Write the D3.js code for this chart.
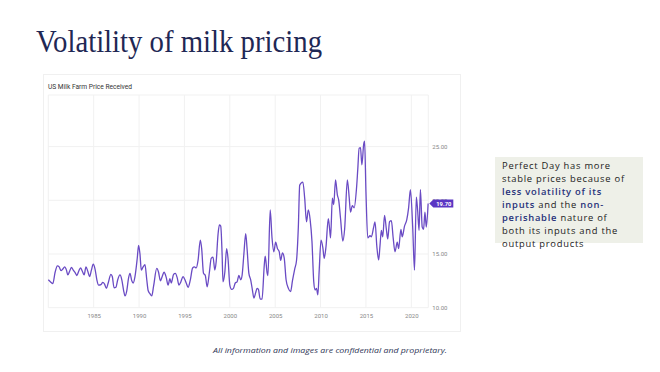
<!DOCTYPE html>
<html>
<head>
<meta charset="utf-8">
<script src="https://cdn.jsdelivr.net/npm/d3@7"></script>
<style>
  body { margin: 0; background: #fff; }
  svg { display: block; }
</style>
</head>
<body>
<div id="chart"></div>
<script>
// decimal years and prices ($/cwt)
const years = [
  1980.0, 1980.25, 1980.5, 1980.75, 1981.0, 1981.2, 1981.4, 1981.6, 1981.8, 1982.0,
  1982.15, 1982.35, 1982.55, 1982.75, 1983.0, 1983.15, 1983.35, 1983.55, 1983.75, 1983.95,
  1984.15, 1984.35, 1984.55, 1984.75, 1984.95, 1985.15, 1985.35, 1985.55, 1985.8, 1986.0,
  1986.2, 1986.4, 1986.6, 1986.9, 1987.05, 1987.25, 1987.45, 1987.65, 1987.9, 1988.1,
  1988.3, 1988.45, 1988.65, 1988.85, 1989.0, 1989.2, 1989.35, 1989.55, 1989.8, 1989.95,
  1990.1, 1990.25, 1990.45, 1990.65, 1990.85, 1991.0, 1991.2, 1991.4, 1991.6, 1991.95,
  1992.15, 1992.35, 1992.55, 1992.75, 1993.0, 1993.2, 1993.4, 1993.55, 1993.8, 1994.0,
  1994.2, 1994.4, 1994.6, 1994.85, 1995.0, 1995.2, 1995.4, 1995.65, 1995.9, 1996.1,
  1996.3, 1996.5, 1996.75, 1996.9, 1997.1, 1997.3, 1997.5, 1997.75, 1997.95, 1998.15,
  1998.35, 1998.5, 1998.7, 1998.85, 1999.0, 1999.15, 1999.25, 1999.45, 1999.65, 1999.8,
  2000.0, 2000.2, 2000.4, 2000.6, 2000.8, 2001.0, 2001.2, 2001.35, 2001.55, 2001.75,
  2001.9, 2002.1, 2002.3, 2002.5, 2002.65, 2002.85, 2003.0, 2003.15, 2003.35, 2003.55,
  2003.8, 2003.9, 2004.1, 2004.2, 2004.45, 2004.65, 2004.85, 2005.05, 2005.25, 2005.45,
  2005.6, 2005.8, 2006.0, 2006.2, 2006.45, 2006.7, 2006.9, 2007.15, 2007.35, 2007.55,
  2007.7, 2007.85, 2008.05, 2008.25, 2008.45, 2008.65, 2008.85, 2009.05, 2009.25, 2009.4,
  2009.55, 2009.7, 2009.85, 2010.05, 2010.25, 2010.4, 2010.6, 2010.85, 2011.0, 2011.1,
  2011.3, 2011.45, 2011.65, 2011.85, 2012.0, 2012.2, 2012.45, 2012.65, 2012.95, 2013.15,
  2013.3, 2013.5, 2013.7, 2013.95, 2014.1, 2014.25, 2014.4, 2014.55, 2014.75, 2014.85,
  2015.0, 2015.2, 2015.45, 2015.6, 2015.85, 2016.0, 2016.2, 2016.4, 2016.55, 2016.7,
  2016.85, 2017.05, 2017.25, 2017.4, 2017.6, 2017.8, 2018.0, 2018.2, 2018.45, 2018.6,
  2018.85, 2019.0, 2019.25, 2019.5, 2019.7, 2019.9, 2020.15, 2020.35, 2020.55, 2020.7,
  2020.85, 2021.0, 2021.2, 2021.35, 2021.5, 2021.65, 2021.85
];
const prices = [
  12.6, 12.4, 12.25, 13.3, 13.9, 13.8, 13.45, 13.6, 13.8, 13.5,
  13.05, 13.4, 13.75, 13.5, 13.2, 13.0, 13.4, 13.7, 13.4, 13.05,
  13.8, 13.4, 12.9, 13.5, 14.05, 13.6, 12.6, 12.1, 12.15, 12.35,
  12.2, 11.8, 12.3, 13.1, 12.9, 11.85, 11.9, 12.6, 13.05, 12.6,
  11.6, 11.1, 11.6, 12.8, 13.2, 12.5, 12.3, 12.9, 14.6, 15.8,
  15.0, 13.5, 13.8, 14.0, 12.6, 11.6, 11.3, 11.1, 12.0, 13.66,
  13.3, 12.5, 12.9, 13.3, 12.8, 12.1, 12.7, 12.3, 13.1, 13.2,
  12.8, 12.1, 12.4, 12.9, 12.7, 12.3, 11.9, 12.6, 13.7, 13.8,
  13.7, 14.4, 16.3, 15.5, 13.2, 13.0, 11.95, 13.3, 14.6, 14.7,
  13.5, 14.3, 16.8, 17.7, 17.6, 15.0, 12.4, 13.3, 15.5, 14.6,
  12.1, 11.7, 11.8, 12.3, 12.4, 13.0, 12.6, 13.0, 15.0, 16.9,
  15.5, 13.2, 12.6, 11.6, 10.9, 11.4, 11.8, 11.7, 10.8, 10.8,
  14.0, 14.8, 13.3, 13.0, 19.1, 16.5, 15.2, 16.1, 15.5, 15.2,
  14.4, 15.1, 14.6, 12.6, 11.8, 11.5, 12.5, 13.6, 14.4, 17.5,
  21.4, 21.6, 21.7, 20.2, 18.0, 19.1, 18.2, 16.2, 12.4, 11.65,
  11.8, 11.2, 13.5, 16.3, 15.6, 14.6, 15.7, 18.3, 17.3, 16.5,
  20.2, 19.6, 21.9, 20.5, 20.0, 18.3, 16.2, 17.3, 21.9, 20.3,
  18.9, 19.5, 19.3, 21.0, 22.9, 24.85, 24.9, 23.3, 25.2, 25.5,
  20.8, 16.5, 16.7, 16.6, 17.5, 18.0, 15.7, 14.45, 15.8, 17.2,
  16.6, 18.6, 17.3, 16.4, 18.0, 18.1, 16.5, 15.2, 16.1, 15.5,
  17.3, 16.6, 17.6, 18.2, 19.3, 21.0, 17.5, 13.5, 20.3, 19.0,
  17.2, 21.0, 17.5, 17.3, 18.9, 17.5, 19.7
];
const yearTicks = [1985, 1990, 1995, 2000, 2005, 2010, 2015, 2020];
const priceTicks = [10, 15, 20, 25];
const lastValue = 19.70;

const width = 660;
const height = 372;
const plot = { left: 48.3, right: 428.3, top: 95, bottom: 307.7 };

const svg = d3.select('#chart')
  .append('svg')
  .attr('width', width)
  .attr('height', height);

// slide title
svg.append('text')
  .attr('x', 36)
  .attr('y', 52)
  .attr('font-family', '"Liberation Serif", "DejaVu Serif", serif')
  .attr('font-size', 32)
  .attr('fill', '#1f2855')
  .attr('textLength', 286)
  .attr('lengthAdjust', 'spacingAndGlyphs')
  .text('Volatility of milk pricing');

// chart panel
svg.append('rect')
  .attr('x', 43.5)
  .attr('y', 74.5)
  .attr('width', 417)
  .attr('height', 257)
  .attr('fill', '#fff')
  .attr('stroke', '#f0f0f0');

svg.append('text')
  .attr('x', 48)
  .attr('y', 88.5)
  .attr('font-family', 'Roboto, sans-serif')
  .attr('font-size', 7.2)
  .attr('fill', '#333')
  .attr('textLength', 84)
  .attr('lengthAdjust', 'spacingAndGlyphs')
  .text('US Milk Farm Price Received');

const x = d3.scaleLinear()
  .domain([1980, 2021.87])
  .range([plot.left, plot.right]);

const y = d3.scaleLinear()
  .domain([10, 10 + (plot.bottom - plot.top) / 10.74])
  .range([plot.bottom, plot.top]);

// grid
const grid = svg.append('g').attr('stroke', '#f1f1f1').attr('stroke-width', 1);
grid.selectAll('line.v')
  .data(yearTicks)
  .join('line')
  .attr('class', 'v')
  .attr('x1', d => x(d)).attr('x2', d => x(d))
  .attr('y1', plot.top).attr('y2', plot.bottom);
grid.selectAll('line.h')
  .data(priceTicks.concat([y.domain()[1]]))
  .join('line')
  .attr('class', 'h')
  .attr('x1', plot.left).attr('x2', plot.right)
  .attr('y1', d => y(d)).attr('y2', d => y(d));
grid.append('line')
  .attr('x1', plot.left).attr('x2', plot.left)
  .attr('y1', plot.top).attr('y2', plot.bottom);
grid.append('line')
  .attr('x1', plot.right).attr('x2', plot.right)
  .attr('y1', plot.top).attr('y2', plot.bottom);

// axes
const xAxis = svg.append('g')
  .attr('transform', `translate(0,${plot.bottom})`)
  .call(d3.axisBottom(x).tickValues(yearTicks).tickFormat(d3.format('d')).tickSize(0).tickPadding(6));
xAxis.select('.domain').remove();
xAxis.selectAll('text')
  .attr('font-family', 'Roboto, sans-serif')
  .attr('font-size', 6)
  .attr('fill', '#888');

// 20.00 is partly covered by the last-value flag, as in the source
const yAxis = svg.append('g')
  .attr('transform', `translate(${plot.right},0)`)
  .call(d3.axisRight(y).tickValues(priceTicks).tickFormat(d3.format('.2f')).tickSize(0).tickPadding(4));
yAxis.select('.domain').remove();
yAxis.selectAll('text')
  .attr('font-family', 'Roboto, sans-serif')
  .attr('font-size', 6)
  .attr('fill', '#888');

// price line
const series = years.map((d, i) => ({ year: d, price: prices[i] }));
const line = d3.line()
  .x(d => x(d.year))
  .y(d => y(d.price))
  .curve(d3.curveMonotoneX);

svg.append('path')
  .datum(series)
  .attr('fill', 'none')
  .attr('stroke', '#6a4bc4')
  .attr('stroke-width', 1.3)
  .attr('stroke-linejoin', 'round')
  .attr('d', line);

// last value flag
const ly = y(lastValue);
const lx = plot.right + 1;
svg.append('path')
  .attr('fill', '#5b36c4')
  .attr('d', `M${lx},${ly} L${lx + 4},${ly - 4} L${lx + 24},${ly - 4} L${lx + 24},${ly + 4} L${lx + 4},${ly + 4} Z`);
svg.append('text')
  .attr('x', lx + 14.5)
  .attr('y', ly + 2.1)
  .attr('text-anchor', 'middle')
  .attr('font-family', 'Roboto, sans-serif')
  .attr('font-weight', 'bold')
  .attr('font-size', 5.8)
  .attr('fill', '#fff')
  .text(d3.format('.2f')(lastValue));

// side note
svg.append('rect')
  .attr('x', 495)
  .attr('y', 157)
  .attr('width', 148)
  .attr('height', 86)
  .attr('fill', '#eef0e8');

const noteLines = [
  [['Perfect Day has more', false]],
  [['stable prices because of', false]],
  [['less volatility of its', true]],
  [['inputs', true], [' and the ', false], ['non-', true]],
  [['perishable', true], [' nature of', false]],
  [['both its inputs and the', false]],
  [['output products', false]]
];
noteLines.forEach((parts, i) => {
  const t = svg.append('text')
    .attr('x', 502)
    .attr('y', 169 + i * 13)
    .attr('font-family', '"Open Sans", "DejaVu Sans", sans-serif')
    .attr('font-size', 9.4)
    .attr('letter-spacing', 0.75)
    .attr('fill', '#222');
  parts.forEach(p => {
    const s = t.append('tspan').text(p[0]);
    if (p[1]) s.attr('fill', '#27327a').attr('font-weight', 600);
  });
});

// footer
svg.append('text')
  .attr('x', 330)
  .attr('y', 353)
  .attr('text-anchor', 'middle')
  .attr('font-family', '"Open Sans", "DejaVu Sans", sans-serif')
  .attr('font-style', 'italic')
  .attr('font-size', 8)
  .attr('fill', '#2e3555')
  .attr('textLength', 234)
  .attr('lengthAdjust', 'spacingAndGlyphs')
  .text('All information and images are confidential and proprietary.');
</script>
</body>
</html>
